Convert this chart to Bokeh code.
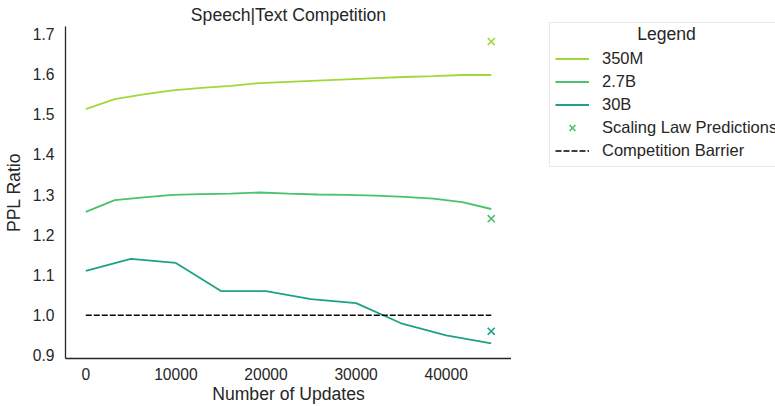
from bokeh.plotting import figure
from bokeh.layouts import row
from bokeh.models import Legend, LegendItem, FixedTicker, NumeralTickFormatter, Range1d, Label
from bokeh.embed import file_html
from bokeh.resources import INLINE

# ---- data ----
updates = [0, 3214, 6429, 9643, 12857, 16071, 19286, 22500, 25714, 28929, 32143, 35357, 38571, 41786, 45000]
ppl_350m = [1.512, 1.537, 1.549, 1.559, 1.565, 1.570, 1.577, 1.580, 1.583, 1.586, 1.589, 1.592, 1.594, 1.597, 1.597]
ppl_2_7b = [1.257, 1.286, 1.293, 1.299, 1.301, 1.302, 1.305, 1.302, 1.300, 1.299, 1.297, 1.294, 1.290, 1.281, 1.264]
updates_30b = [0, 5000, 10000, 15000, 20000, 25000, 30000, 35000, 40000, 45000]
ppl_30b = [1.11, 1.14, 1.13, 1.06, 1.06, 1.04, 1.03, 0.98, 0.95, 0.93]
pred_updates = [45000, 45000, 45000]
pred_ppl = [1.68, 1.24, 0.96]
barrier_updates = [0, 45000]
barrier_ppl = [1.0, 1.0]
x_ticks = [0, 10000, 20000, 30000, 40000]
y_ticks = [0.9, 1.0, 1.1, 1.2, 1.3, 1.4, 1.5, 1.6, 1.7]
series_names = ["350M", "2.7B", "30B"]

# ---- styles / layout ----
colors = ["#9fd938", "#4ac16d", "#1fa187"]
FONT = "Liberation Sans"
TXT = "#262626"
W, H = 775, 406
AX_LEFT, AX_RIGHT = 64, 511
TOP, BOTTOM = 26, 48

all_x = updates + updates_30b + pred_updates
all_y = ppl_350m + ppl_2_7b + ppl_30b + pred_ppl + barrier_ppl
xpad = (max(all_x) - min(all_x)) * 0.05
ypad = (max(all_y) - min(all_y)) * 0.05

p = figure(width=AX_RIGHT, height=H, output_backend="svg", toolbar_location=None,
           title="Speech|Text Competition",
           x_range=Range1d(min(all_x) - xpad, max(all_x) + xpad),
           y_range=Range1d(min(all_y) - ypad, max(all_y) + ypad),
           min_border_left=AX_LEFT, min_border_right=0, min_border_top=TOP, min_border_bottom=BOTTOM)
p.outline_line_color = None
p.grid.visible = False
p.background_fill_color = "white"
p.border_fill_color = "white"

p.title.align = "center"
p.title.text_font = FONT
p.title.text_font_size = "17.6px"
p.title.text_font_style = "normal"
p.title.text_color = TXT
p.title.standoff = 3
p.title.vertical_align = "bottom"

def draw_series(fig):
    r = [fig.line(updates, ppl_350m, line_color=colors[0], line_width=1.8),
         fig.line(updates, ppl_2_7b, line_color=colors[1], line_width=1.8),
         fig.line(updates_30b, ppl_30b, line_color=colors[2], line_width=1.8)]
    s = [fig.scatter([pred_updates[i]], [pred_ppl[i]], marker="x", size=10,
                     line_color=colors[i], line_width=1.6) for i in range(3)]
    b = fig.line(barrier_updates, barrier_ppl, line_color="black", line_width=1.6, line_dash="6 2")
    return r, s, b

draw_series(p)

for ax in (p.xaxis[0], p.yaxis[0]):
    ax.axis_line_color = TXT
    ax.axis_line_width = 1.3
    ax.major_tick_out = 0
    ax.major_tick_in = 0
    ax.minor_tick_out = 0
    ax.minor_tick_in = 0
    ax.major_label_text_font = FONT
    ax.major_label_text_font_size = "15.6px"
    ax.major_label_text_color = TXT
    ax.axis_label_text_font = FONT
    ax.axis_label_text_font_size = "17.6px"
    ax.axis_label_text_font_style = "normal"
    ax.axis_label_text_color = TXT
p.xaxis[0].ticker = FixedTicker(ticks=x_ticks)
p.yaxis[0].ticker = FixedTicker(ticks=y_ticks)
p.yaxis[0].formatter = NumeralTickFormatter(format="0.0")
p.xaxis[0].major_label_standoff = 9
p.yaxis[0].major_label_standoff = 11
p.xaxis[0].axis_label = "Number of Updates"
p.xaxis[0].axis_label_standoff = 1
p.yaxis[0].axis_label = "PPL Ratio"
p.yaxis[0].axis_label_standoff = 6

# ---- legend panel (right of the axes); its own series copies sit out of view ----
LW = W - AX_RIGHT
pl = figure(width=LW, height=H, output_backend="svg", toolbar_location=None,
            x_axis_type=None, y_axis_type=None, min_border=0,
            x_range=Range1d(-2, -1), y_range=Range1d(-2, -1))
frame_bottom = H
if "frame_align" in pl.properties():
    pl.frame_align = False
else:
    frame_bottom = H - BOTTOM
pl.outline_line_color = None
pl.grid.visible = False
pl.background_fill_color = "white"
pl.border_fill_color = "white"
kr, ks, kb = draw_series(pl)

items = [
    LegendItem(label=series_names[0], renderers=[kr[0]]),
    LegendItem(label=series_names[1], renderers=[kr[1]]),
    LegendItem(label=series_names[2], renderers=[kr[2]]),
    LegendItem(label="Scaling Law Predictions", renderers=[ks[1]]),
    LegendItem(label="Competition Barrier", renderers=[kb]),
]
legend = Legend(items=items, location=(549 - AX_RIGHT, frame_bottom - 167), title="\u00a0",
                title_text_font=FONT, title_text_font_size="15.8px",
                title_standoff=2,
                label_text_font=FONT, label_text_font_size="16.5px", label_text_color=TXT,
                glyph_width=34, glyph_height=21, label_height=21, label_standoff=13,
                spacing=2, padding=5, margin=0,
                border_line_color="#d6d6d6", border_line_width=1,
                background_fill_color="white", background_fill_alpha=0)
pl.add_layout(legend, "center")
pl.add_layout(Label(x=666 - AX_RIGHT, y=frame_bottom - 33.5, x_units="screen", y_units="screen",
                    text="Legend", text_align="center", text_baseline="alphabetic",
                    text_font=FONT, text_font_size="17.6px", text_color=TXT, level="overlay"))

open("out.html", "w").write(file_html(row(p, pl), INLINE))
